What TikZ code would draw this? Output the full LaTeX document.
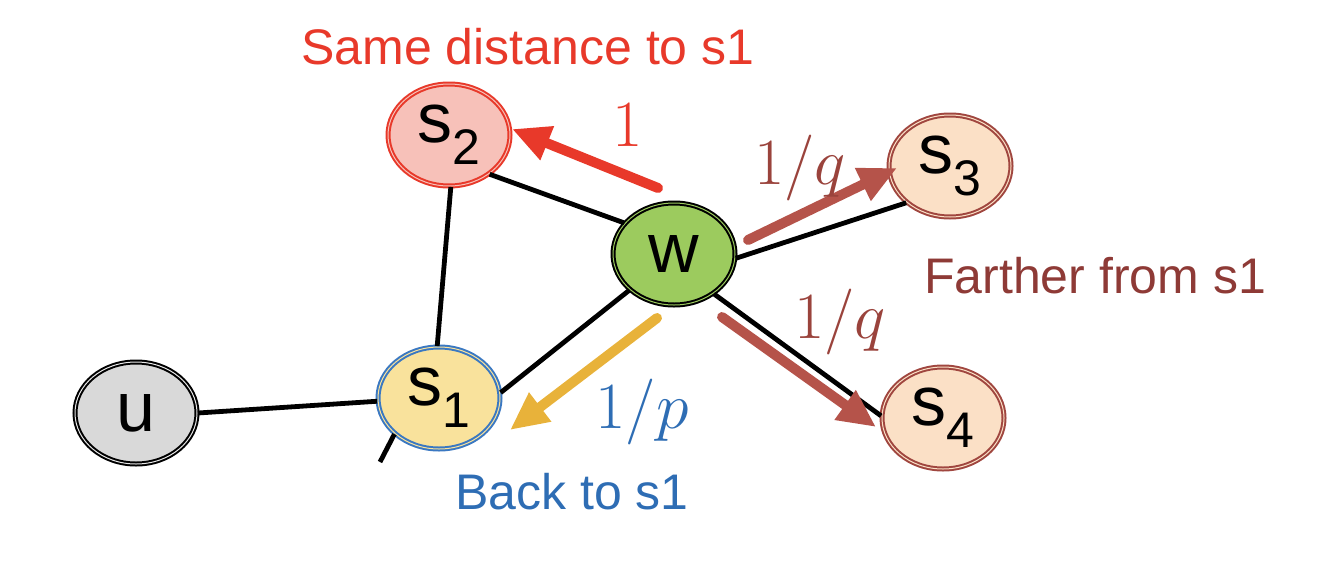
\RequirePackage{fix-cm}
\documentclass[tikz,border=0pt]{standalone}
\usepackage{fontspec}
\setmainfont{Liberation Sans}
\usetikzlibrary{arrows.meta,shapes.geometric}
\definecolor{cred}{HTML}{E8392A}
\definecolor{cbrown}{HTML}{8E3A36}
\definecolor{carrq}{HTML}{B5534A}
\definecolor{cqtxt}{HTML}{9A433C}
\definecolor{cblue}{HTML}{2E6DB4}
\definecolor{cyel}{HTML}{E8B23A}
\definecolor{fills2}{HTML}{F7C1B9}
\definecolor{fills1}{HTML}{F9E29C}
\definecolor{fillu}{HTML}{D9D9D9}
\definecolor{fillw}{HTML}{9CCB5E}
\definecolor{fills3}{HTML}{FBE0C6}
\definecolor{brd3}{HTML}{A0463F}
\definecolor{brd1}{HTML}{3A78C2}
\newcommand\nsub[1]{\raisebox{-0.32em}{\fontsize{25}{25}\selectfont #1}}
\tikzset{
  vert/.style={ellipse, minimum width=61pt, minimum height=51pt, inner sep=0pt,
    line width=1pt, double distance=0.5pt, font=\fontsize{35}{35}\selectfont},
  edge/.style={line width=2.4pt, black},
  arr/.style={line width=5pt, line cap=round, -{Triangle[length=19pt,width=17pt]}},
  big/.style={font=\fontsize{25}{25}\selectfont},
  mlab/.style={font=\fontsize{33}{33}\selectfont},
}
\begin{document}
\begin{tikzpicture}[x=0.5pt,y=-0.5pt]
\useasboundingbox (0,0) rectangle (1320,562);
% nodes
\node[vert, draw=black, double=fillu!60, fill=fillu] (u) at (136,413) {u};
\node[vert, draw=brd1, double=fills1, fill=fills1] (s1) at (439,398) {s\nsub{1}};
\node[vert, draw=cred, double=fills2, fill=fills2] (s2) at (449,135) {s\nsub{2}};
\node[vert, draw=black, double=fillw, fill=fillw] (w) at (674,254) {w};
\node[vert, draw=brd3, double=fills3, fill=fills3] (s3) at (950,166) {s\nsub{3}};
\node[vert, draw=brd3, double=fills3, fill=fills3] (s4) at (943,418) {s\nsub{4}};
% edges
\draw[edge] (u.0) -- (s1.183);
\draw[edge] (s2.-88) -- (s1.92);
\draw[edge] (s2.-44) -- (w.148);
\draw[edge] (s1.5) -- (w.-141);
\draw[edge] (w.-4) -- (s3.-140);
\draw[edge] (w.-45) -- (s4.178);
\coordinate (stub) at (380,462);
\draw[edge] (s1.-141) -- (stub);
% arrows
\coordinate (a1s) at (658,188);
\coordinate (a1e) at (512,129);
\draw[arr, cred] (a1s) -- (a1e);
\coordinate (a3s) at (748,240);
\coordinate (a3e) at (897,168);
\draw[arr, carrq] (a3s) -- (a3e);
\coordinate (a4s) at (722,317);
\coordinate (a4e) at (876,427);
\draw[arr, carrq] (a4s) -- (a4e);
\coordinate (aps) at (657,318);
\coordinate (ape) at (510,430);
\draw[arr, cyel] (aps) -- (ape);
% labels
\node[big, text=cred] (tsame) at (528,47) {Same distance to s1};
\node[big, text=cbrown] (tfar) at (1095,276) {Farther from s1};
\node[big, text=cblue] (tback) at (572,492) {Back to s1};
\node[mlab, text=cred] (l1) at (628,125) {$1$};
\node[mlab, text=cqtxt] (lq1) at (800,168) {$1/q$};
\node[mlab, text=cqtxt] (lq2) at (840,322) {$1/q$};
\node[mlab, text=cblue] (lp) at (642,412) {$1/p$};
\end{tikzpicture}
\end{document}
